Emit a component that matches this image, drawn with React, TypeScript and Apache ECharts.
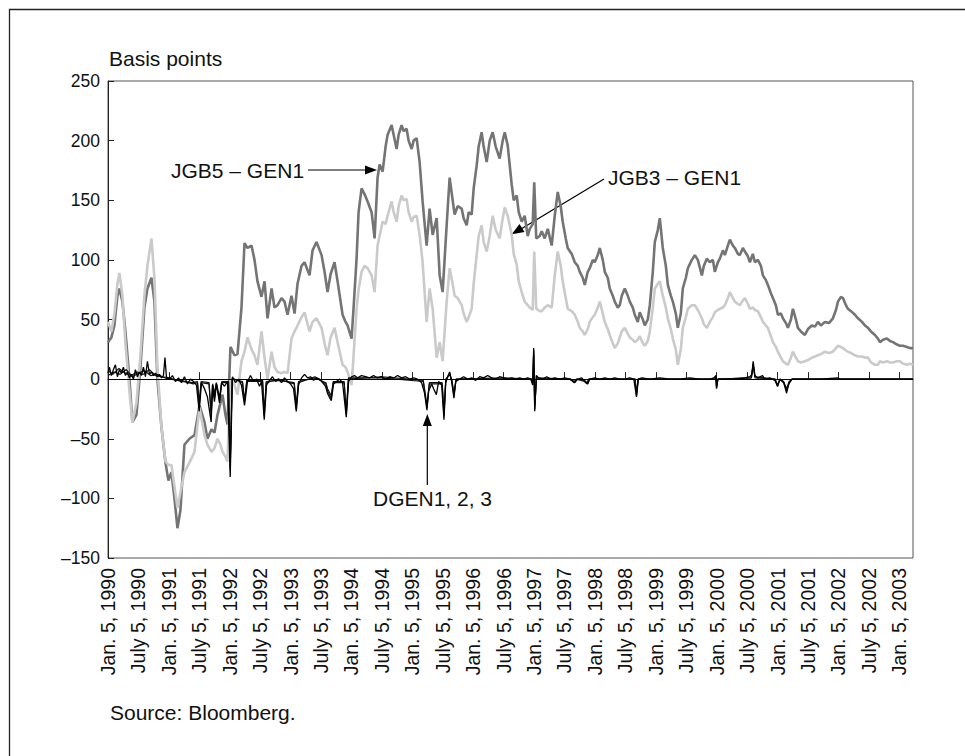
import React, { useEffect, useRef } from "react";
import * as echarts from "echarts";

// x values are years elapsed since Jan. 5, 1990
const tickLabels = [
  "Jan. 5, 1990", "July 5, 1990", "Jan. 5, 1991", "July 5, 1991", "Jan. 5, 1992", "July 5, 1992",
  "Jan. 5, 1993", "July 5, 1993", "Jan. 5, 1994", "July 5, 1994", "Jan. 5, 1995", "July 5, 1995",
  "Jan. 5, 1996", "July 5, 1996", "Jan. 5, 1997", "July 5, 1997", "Jan. 5, 1998", "July 5, 1998",
  "Jan. 5, 1999", "July 5, 1999", "Jan. 5, 2000", "July 5, 2000", "Jan. 5, 2001", "July 5, 2001",
  "Jan. 5, 2002", "July 5, 2002", "Jan. 5, 2003",
];
const yTicks = [-150, -100, -50, 0, 50, 100, 150, 200, 250];

const jgbT = [
  0, 0.056, 0.105, 0.155, 0.187, 0.237, 0.286, 0.352, 0.401, 0.467,
  0.533, 0.598, 0.648, 0.714, 0.763, 0.812, 0.878, 0.944, 0.993, 1.042,
  1.092, 1.141, 1.190, 1.256, 1.338, 1.421, 1.503, 1.585, 1.634, 1.700,
  1.749, 1.799, 1.848, 1.881, 1.930, 1.963, 2.012, 2.078, 2.128, 2.193,
  2.243, 2.292, 2.358, 2.407, 2.456, 2.522, 2.572, 2.621, 2.687, 2.736,
  2.785, 2.851, 2.900, 2.950, 3.015, 3.065, 3.114, 3.180, 3.229, 3.311,
  3.361, 3.426, 3.509, 3.558, 3.607, 3.657, 3.722, 3.772, 3.854, 3.903,
  3.936, 4.002, 4.035, 4.084, 4.117, 4.166, 4.216, 4.265, 4.331, 4.380,
  4.429, 4.462, 4.512, 4.561, 4.594, 4.660, 4.693, 4.742, 4.775, 4.824,
  4.857, 4.906, 4.939, 4.989, 5.021, 5.071, 5.120, 5.169, 5.235, 5.284,
  5.334, 5.400, 5.449, 5.498, 5.564, 5.613, 5.663, 5.695, 5.745, 5.811,
  5.843, 5.893, 5.926, 5.975, 6.008, 6.057, 6.090, 6.139, 6.172, 6.222,
  6.271, 6.320, 6.370, 6.435, 6.485, 6.518, 6.567, 6.633, 6.666, 6.715,
  6.748, 6.797, 6.846, 6.896, 6.929, 6.978, 7.003, 7.036, 7.093, 7.126,
  7.175, 7.225, 7.290, 7.340, 7.389, 7.438, 7.471, 7.521, 7.553, 7.619,
  7.669, 7.718, 7.751, 7.800, 7.833, 7.882, 7.915, 7.965, 7.997, 8.047,
  8.080, 8.129, 8.162, 8.211, 8.244, 8.293, 8.326, 8.376, 8.408, 8.441,
  8.491, 8.540, 8.573, 8.622, 8.655, 8.704, 8.737, 8.787, 8.819, 8.869,
  8.902, 8.951, 8.984, 9.033, 9.066, 9.115, 9.165, 9.198, 9.247, 9.280,
  9.329, 9.362, 9.411, 9.444, 9.494, 9.527, 9.592, 9.642, 9.691, 9.757,
  9.790, 9.839, 9.888, 9.938, 9.970, 10.020, 10.053, 10.102, 10.135, 10.184,
  10.217, 10.267, 10.299, 10.349, 10.381, 10.431, 10.464, 10.513, 10.546, 10.595,
  10.628, 10.677, 10.727, 10.760, 10.809, 10.842, 10.891, 10.924, 10.973, 11.006,
  11.056, 11.088, 11.138, 11.171, 11.220, 11.253, 11.302, 11.335, 11.384, 11.450,
  11.500, 11.565, 11.615, 11.664, 11.713, 11.779, 11.845, 11.910, 11.960, 11.993,
  12.042, 12.075, 12.124, 12.157, 12.207, 12.272, 12.322, 12.387, 12.437, 12.486,
  12.535, 12.601, 12.650, 12.683, 12.733, 12.798, 12.848, 12.897, 12.963, 13.012,
  13.061, 13.127, 13.177, 13.226,
];

const jgb5 = [
  31, 35, 45, 70, 76, 65, 40, 0, -36, -30,
  10, 60, 76, 85, 65, 0, -40, -70, -85, -78,
  -100, -125, -110, -55, -50, -47, -22, -36, -50, -42,
  -45, -30, -20, -13, -30, -38, 27, 20, 21, 60,
  114, 110, 112, 100, 82, 69, 82, 51, 76, 60,
  62, 68, 65, 54, 70, 55, 80, 95, 98, 87,
  108, 115, 104, 90, 73, 88, 98, 82, 54, 48,
  45, 34, 60, 101, 140, 160, 155, 149, 140, 118,
  169, 180, 174, 195, 205, 213, 205, 193, 205, 213,
  208, 210, 200, 193, 200, 202, 182, 149, 112, 143,
  121, 135, 87, 73, 129, 169, 150, 138, 145, 143,
  135, 129, 140, 138, 160, 179, 195, 207, 195, 182,
  200, 207, 195, 185, 200, 207, 196, 163, 150, 154,
  140, 132, 137, 120, 126, 130, 165, 118, 120, 124,
  118, 126, 112, 137, 157, 145, 132, 118, 110, 105,
  98, 95, 90, 85, 79, 90, 93, 100, 98, 104,
  110, 100, 90, 85, 76, 70, 65, 60, 62, 70,
  76, 70, 65, 60, 54, 48, 56, 50, 45, 50,
  62, 90, 115, 125, 135, 110, 95, 79, 70, 65,
  55, 43, 55, 76, 85, 93, 100, 104, 100, 87,
  95, 101, 98, 100, 90, 98, 101, 108, 104, 112,
  117, 112, 110, 105, 104, 110, 107, 103, 98, 105,
  98, 100, 95, 87, 83, 79, 72, 68, 62, 54,
  55, 51, 47, 43, 50, 59, 50, 43, 40, 37,
  42, 45, 44, 48, 45, 48, 47, 51, 58, 65,
  69, 68, 62, 59, 57, 54, 51, 48, 45, 43,
  40, 37, 34, 31, 33, 34, 32, 31, 29, 28,
  28, 27, 26, 26,
];

const jgb3 = [
  48, 40, 55, 80, 89, 70, 30, -10, -36, -20,
  20, 70, 95, 118, 85, 10, -40, -69, -72, -72,
  -90, -108, -95, -78, -70, -61, -24, -47, -55, -61,
  -58, -50, -55, -61, -65, -69, 0, -5, -13, 15,
  23, 35, 25, 20, 12, 40, 18, 0, 23, 10,
  6, 5, 6, 5, 34, 40, 45, 52, 56, 40,
  48, 51, 43, 30, 20, 35, 43, 31, 12, 10,
  6, -5, 20, 59, 75, 90, 95, 93, 87, 73,
  112, 120, 132, 130, 137, 149, 140, 132, 145, 154,
  150, 151, 140, 132, 136, 137, 121, 98, 48, 76,
  59, 18, 31, 15, 65, 93, 80, 70, 68, 62,
  55, 48, 52, 59, 80, 104, 120, 129, 115, 107,
  120, 137, 125, 118, 135, 144, 137, 121, 105, 96,
  82, 73, 65, 62, 60, 58, 107, 59, 57, 57,
  60, 62, 60, 87, 107, 95, 82, 68, 59, 57,
  54, 48, 43, 40, 37, 42, 48, 52, 54, 60,
  65, 55, 48, 42, 37, 30, 26, 30, 35, 40,
  43, 38, 35, 33, 31, 33, 36, 30, 28, 32,
  40, 60, 76, 80, 82, 70, 60, 51, 42, 34,
  25, 12, 25, 43, 52, 59, 62, 62, 58, 51,
  46, 43, 48, 52, 56, 58, 59, 60, 62, 68,
  73, 68, 65, 63, 62, 66, 68, 63, 59, 60,
  58, 57, 52, 48, 45, 43, 36, 31, 27, 23,
  18, 15, 13, 12, 18, 23, 18, 15, 14, 15,
  16, 18, 19, 20, 21, 23, 22, 23, 26, 28,
  27, 26, 24, 23, 22, 20, 19, 19, 18, 18,
  14, 12, 12, 15, 14, 15, 14, 14, 15, 15,
  13, 12, 13, 12,
];

// [years since Jan. 5, 1990, basis points]
const dgen1 = [
  [0, 5], [0.023, 10], [0.056, 3], [0.089, 8], [0.122, 12], [0.155, 2], [0.187, 8], [0.22, 5], [0.253, 10], [0.286, 3],
  [0.319, 6], [0.352, 1], [0.385, 4], [0.418, 0], [0.451, 8], [0.483, 2], [0.516, 6], [0.549, 3], [0.582, 10], [0.615, 2],
  [0.648, 15], [0.681, 4], [0.714, 6], [0.746, 3], [0.779, 5], [0.812, 2], [0.845, 4], [0.878, 1], [0.911, 3], [0.936, 18],
  [0.96, 2], [1.01, 0], [1.059, 3], [1.108, -2], [1.158, 1], [1.207, -3], [1.256, 2], [1.306, -4], [1.355, 0], [1.404, -2],
  [1.454, -5], [1.498, -27], [1.536, -3], [1.585, -8], [1.634, -15], [1.695, -36], [1.717, -5], [1.749, -19], [1.782, -4], [1.832, -20],
  [1.865, -3], [1.914, -6], [1.963, -2], [2.008, -82], [2.045, 2], [2.095, -3], [2.144, 0], [2.193, -5], [2.243, -22], [2.292, -2],
  [2.341, 3], [2.391, -2], [2.44, 0], [2.49, -6], [2.522, -2], [2.567, -34], [2.604, -5], [2.654, -1], [2.703, 2], [2.753, -2],
  [2.802, 0], [2.851, -3], [2.9, 1], [2.95, -2], [2.999, -4], [3.048, -8], [3.093, -27], [3.131, -5], [3.18, 1], [3.229, 4],
  [3.279, 1], [3.328, 2], [3.377, -1], [3.426, 1], [3.476, 0], [3.525, -3], [3.574, -6], [3.607, -12], [3.668, -18], [3.706, -4],
  [3.755, -2], [3.805, 0], [3.854, -3], [3.915, -32], [3.953, -2], [4.002, 2], [4.051, 3], [4.1, 1], [4.166, 3], [4.232, 2],
  [4.298, 1], [4.364, 3], [4.429, 1], [4.495, 2], [4.561, 0], [4.627, 2], [4.693, 1], [4.758, 3], [4.824, 1], [4.89, 2],
  [4.956, 0], [5.021, 1], [5.087, 0], [5.153, -3], [5.202, -12], [5.24, -26], [5.268, -10], [5.317, -4], [5.35, -8], [5.395, -13],
  [5.432, -2], [5.482, -5], [5.52, -34], [5.548, -3], [5.581, 2], [5.613, 6], [5.646, -2], [5.684, -16], [5.712, -2], [5.778, 0],
  [5.843, 2], [5.909, 0], [5.975, 1], [6.041, -1], [6.107, 2], [6.172, 1], [6.238, 3], [6.304, 1], [6.37, 0], [6.435, 2],
  [6.501, 1], [6.567, 0], [6.633, 1], [6.698, 0], [6.764, 1], [6.83, 0], [6.896, 1], [6.945, 0], [6.978, -5], [6.994, 26],
  [7.011, -27], [7.036, 3], [7.077, 1], [7.143, 0], [7.208, 2], [7.274, 0], [7.34, 1], [7.422, 0], [7.504, 1], [7.586, 0],
  [7.669, -3], [7.718, 0], [7.784, 1], [7.849, -3], [7.882, -4], [7.915, 0], [7.997, 1], [8.08, 0], [8.162, 1], [8.244, 0],
  [8.326, 1], [8.408, 0], [8.491, 0], [8.573, 1], [8.639, 0], [8.683, -15], [8.713, 0], [8.77, 1], [8.902, 0], [9.066, 1],
  [9.231, 0], [9.395, 0], [9.559, 1], [9.724, 0], [9.888, 0], [9.954, 1], [9.987, 3], [9.998, -8], [10.02, 0], [10.135, 0],
  [10.299, 0], [10.464, 1], [10.546, 2], [10.579, 4], [10.6, 15], [10.628, 3], [10.677, 1], [10.754, 3], [10.792, 0], [10.875, 1],
  [10.957, -1], [11.001, -6], [11.039, 0], [11.105, -3], [11.149, -10], [11.187, -4], [11.236, 0], [11.368, 0], [11.532, 0], [11.697, 0],
  [11.993, 1], [12.026, 0], [12.355, 0], [12.683, 0], [13.012, 0], [13.226, 0],
];

const dgen2 = [
  [0, 3], [0.1, 6], [0.2, 4], [0.3, 8], [0.4, 2], [0.5, 5], [0.6, 7], [0.7, 3], [0.8, 4], [0.9, 2],
  [1.0, 1], [1.2, -2], [1.4, -3], [1.47, -2], [1.498, -20], [1.53, -2], [1.66, -3], [1.695, -28], [1.72, -4], [1.749, -12],
  [1.78, -3], [1.832, -15], [1.87, -2], [1.98, -2], [2.008, -70], [2.04, 0], [2.21, -2], [2.243, -18], [2.28, -1], [2.54, -1],
  [2.567, -28], [2.6, -2], [2.8, -1], [3.06, -3], [3.093, -22], [3.13, -2], [3.4, 1], [3.58, -3], [3.607, -8], [3.668, -14],
  [3.7, -2], [3.88, -2], [3.915, -28], [3.95, 0], [4.5, 2], [5.18, -1], [5.24, -22], [5.28, -3], [5.49, -3], [5.52, -28],
  [5.55, 0], [5.613, 4], [5.65, -1], [5.684, -12], [5.72, 0], [6.5, 1], [6.96, 0], [6.978, -3], [6.994, 22], [7.011, -22],
  [7.04, 1], [7.6, 0], [7.66, -2], [7.7, 0], [7.83, -1], [7.87, -3], [7.9, 0], [8.66, 0], [8.683, -12], [8.71, 0],
  [9.97, 0], [9.987, 2], [9.998, -6], [10.02, 0], [10.57, 1], [10.6, 12], [10.63, 2], [10.96, 0], [11.0, -5], [11.04, 0],
  [11.1, -2], [11.149, -8], [11.19, -2], [11.24, 0], [13.226, 0],
];

const dgen3 = [
  [0, 7], [0.08, 4], [0.18, 9], [0.28, 5], [0.38, 3], [0.48, 6], [0.58, 4], [0.68, 8], [0.78, 3], [0.88, 2],
  [1.0, 0], [1.2, -1], [1.4, -4], [1.47, -3], [1.498, -24], [1.53, -3], [1.66, -4], [1.695, -32], [1.72, -5], [1.749, -16],
  [1.78, -4], [1.832, -18], [1.87, -3], [1.98, -3], [2.008, -76], [2.04, 1], [2.21, -3], [2.243, -20], [2.28, -2], [2.54, -2],
  [2.567, -31], [2.6, -3], [2.8, 0], [3.06, -4], [3.093, -25], [3.13, -3], [3.4, 2], [3.58, -4], [3.607, -10], [3.668, -16],
  [3.7, -3], [3.88, -3], [3.915, -30], [3.95, 1], [4.5, 1], [5.18, -2], [5.24, -24], [5.28, -4], [5.49, -4], [5.52, -31],
  [5.55, -1], [5.613, 5], [5.65, -2], [5.684, -14], [5.72, 0], [6.5, 0], [6.96, 0], [6.978, -4], [6.994, 24], [7.011, -25],
  [7.04, 0], [7.6, 0], [7.66, -3], [7.7, 0], [7.83, -2], [7.87, -4], [7.9, 0], [8.66, 0], [8.683, -14], [8.71, 0],
  [9.97, 0], [9.987, 3], [9.998, -7], [10.02, 0], [10.57, 1], [10.6, 13], [10.63, 1], [10.96, 0], [11.0, -6], [11.04, 0],
  [11.1, -3], [11.149, -12], [11.19, -3], [11.24, 0], [13.226, 0],
];

const START_YEAR = 1990;
const END_OFFSET = 13.226;
const FONT = "'Liberation Sans', Arial, Helvetica, sans-serif";

function buildOption() {
  const toPairs = (vals: number[]) => jgbT.map((t, i) => [START_YEAR + t, vals[i]]);
  const shift = (arr: number[][]) => arr.map(([t, v]) => [START_YEAR + t, v]);
  const lineBase = {
    type: "line" as const,
    showSymbol: false,
    symbol: "none",
    silent: true,
    smooth: false,
  };
  const textStyle = (text: string, size: number) => ({
    text,
    fontSize: size,
    fontFamily: FONT,
    fill: "#111111",
    verticalAlign: "middle",
  });
  return {
    animation: false,
    backgroundColor: "#ffffff",
    grid: {
      left: 108,
      right: 52,
      top: 81,
      bottom: 198,
      show: true,
      borderColor: "#555555",
      borderWidth: 1,
      outerBoundsMode: "none",
    },
    xAxis: {
      type: "value",
      min: START_YEAR,
      max: START_YEAR + END_OFFSET,
      interval: 0.5,
      splitLine: { show: false },
      axisLine: { show: true, lineStyle: { color: "#222222", width: 1 } },
      axisTick: { show: true, inside: true, length: 7, lineStyle: { color: "#222222" } },
      axisLabel: {
        rotate: 90,
        margin: 10,
        fontSize: 19.5,
        color: "#111111",
        fontFamily: FONT,
        showMaxLabel: false,
        formatter: (v: number) => {
          const k = Math.round((v - START_YEAR) * 2);
          if (Math.abs(v - START_YEAR - k / 2) > 1e-6) return "";
          return tickLabels[k] ?? "";
        },
      },
    },
    yAxis: {
      type: "value",
      min: yTicks[0],
      max: yTicks[yTicks.length - 1],
      interval: 50,
      splitLine: { show: false },
      axisLine: { show: true, lineStyle: { color: "#222222", width: 1 } },
      axisTick: { show: true, inside: true, length: 6, lineStyle: { color: "#222222" } },
      axisLabel: {
        margin: 8,
        fontSize: 17.5,
        color: "#111111",
        fontFamily: FONT,
        formatter: (v: number) => (v < 0 ? "\u2013" + Math.abs(v) : String(v)),
      },
    },
    series: [
      {
        ...lineBase,
        name: "JGB5 – GEN1",
        data: toPairs(jgb5),
        lineStyle: { color: "#747474", width: 2.6 },
        z: 2,
      },
      {
        ...lineBase,
        name: "JGB3 – GEN1",
        data: toPairs(jgb3),
        lineStyle: { color: "#cacaca", width: 2.6 },
        z: 2,
      },
      {
        ...lineBase,
        name: "DGEN2",
        data: shift(dgen2),
        lineStyle: { color: "#111111", width: 1.2 },
        z: 3,
      },
      {
        ...lineBase,
        name: "DGEN3",
        data: shift(dgen3),
        lineStyle: { color: "#111111", width: 1.2 },
        z: 3,
      },
      {
        ...lineBase,
        name: "DGEN1",
        data: shift(dgen1),
        lineStyle: { color: "#000000", width: 1.3 },
        z: 4,
        markLine: {
          silent: true,
          symbol: "none",
          label: { show: false },
          lineStyle: { color: "#000000", width: 1, type: "solid" },
          data: [{ yAxis: 0 }],
        },
      },
    ],
    graphic: [
      {
        type: "rect",
        shape: { x: 9.5, y: 9.5, width: 1400, height: 1400 },
        style: { fill: "none", stroke: "#222222", lineWidth: 1.3 },
        silent: true,
      },
      { type: "text", x: 109, y: 58, style: textStyle("Basis points", 21) },
      { type: "text", x: 110, y: 712, style: textStyle("Source: Bloomberg.", 21) },
      { type: "text", x: 171, y: 170, style: textStyle("JGB5 \u2013 GEN1", 21) },
      {
        type: "line",
        shape: { x1: 308, y1: 170, x2: 366, y2: 170 },
        style: { stroke: "#000000", lineWidth: 1.2 },
      },
      {
        type: "polygon",
        shape: { points: [[377, 170], [365, 165.5], [365, 174.5]] },
        style: { fill: "#000000" },
      },
      { type: "text", x: 608, y: 177, style: textStyle("JGB3 \u2013 GEN1", 21) },
      {
        type: "line",
        shape: { x1: 604, y1: 179, x2: 521, y2: 229 },
        style: { stroke: "#000000", lineWidth: 1.2 },
      },
      {
        type: "polygon",
        shape: { points: [[511.7, 234.3], [524.5, 232], [519.5, 224]] },
        style: { fill: "#000000" },
      },
      { type: "text", x: 373, y: 498, style: textStyle("DGEN1, 2, 3", 21) },
      {
        type: "line",
        shape: { x1: 427.3, y1: 485, x2: 427.3, y2: 424 },
        style: { stroke: "#000000", lineWidth: 1.2 },
      },
      {
        type: "polygon",
        shape: { points: [[427.3, 414], [422.8, 426], [431.8, 426]] },
        style: { fill: "#000000" },
      },
    ],
  };
}

export default function App() {
  const ref = useRef<HTMLDivElement>(null);
  useEffect(() => {
    if (!ref.current) return;
    const chart = echarts.init(ref.current, null, { renderer: "svg" });
    chart.setOption(buildOption() as any);
    return () => {
      chart.dispose();
    };
  }, []);
  return (
    <div
      ref={ref}
      style={{ position: "fixed", left: 0, top: 0, width: 965, height: 756, background: "#ffffff" }}
    />
  );
}
